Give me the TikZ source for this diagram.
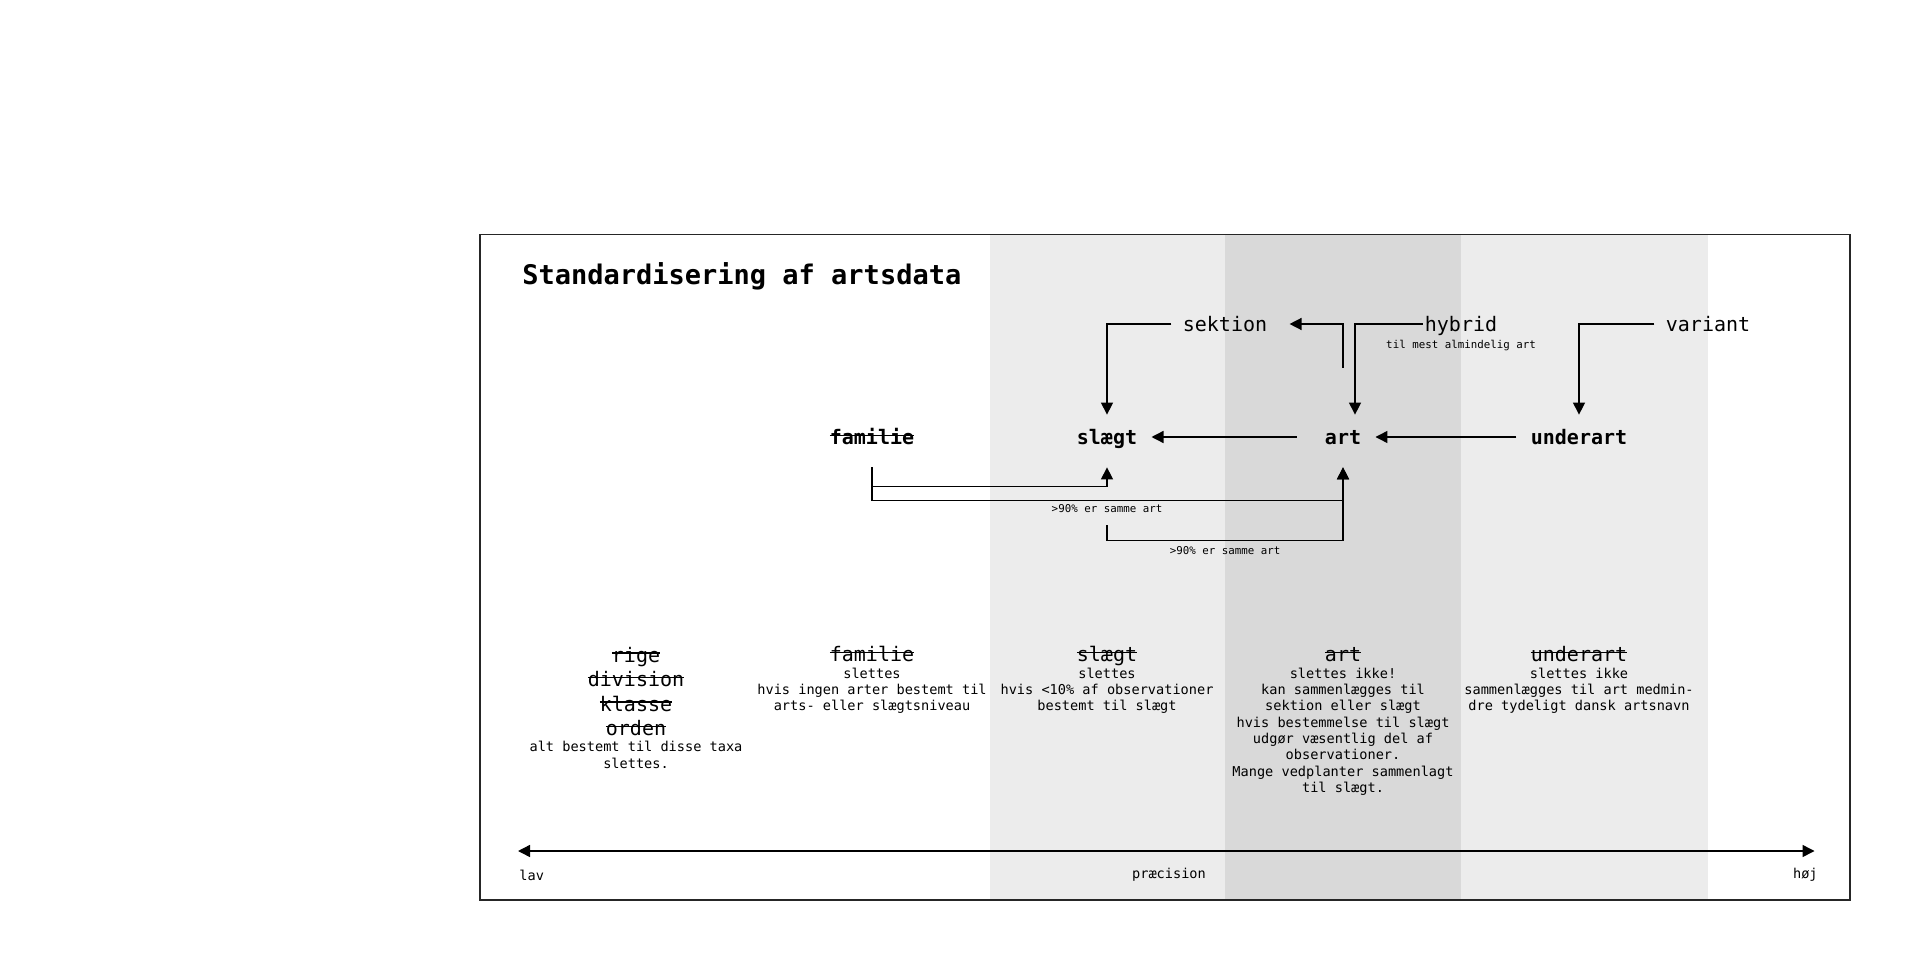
\documentclass[tikz,border=0pt]{standalone}
\usepackage{fontspec}
\setmainfont{DejaVu Sans Mono}
\usetikzlibrary{arrows.meta}
\newcommand\struck[1]{\setbox0\hbox{#1}\rlap{\rule[0.41em]{\wd0}{0.075em}}\box0}

\begin{document}
\begin{tikzpicture}[x=.5pt,y=-.5pt,
  >={Triangle[length=6pt,width=6pt]},
  conn/.style={line width=.7pt},
  upnode/.style={font=\bfseries\fontsize{10}{12}\selectfont,text height=8.8pt,text depth=1.2pt,inner xsep=7pt,inner ysep=6pt},
  sidenode/.style={font=\fontsize{10}{12}\selectfont,text height=8.8pt,text depth=1.2pt,inner xsep=5.5pt,inner ysep=6pt},
  note/.style={font=\fontsize{5.4}{6.5}\selectfont,inner sep=1pt},
  lowhdr/.style={font=\fontsize{10}{12.25}\selectfont,align=center,inner sep=0pt},
  lowtxt/.style={font=\fontsize{6.8}{8.15}\selectfont,align=center,inner sep=0pt,anchor=north},
  axtxt/.style={font=\fontsize{6.8}{8}\selectfont,inner sep=0pt}]
\path[use as bounding box] (0,0) rectangle (1925,962);
\fill[black!7.5] (989.5,234.5) rectangle (1225,900);
\fill[black!15] (1225,234.5) rectangle (1461,900);
\fill[black!7.5] (1461,234.5) rectangle (1708,900);
\draw[black!85,line width=.9pt] (480,234.5) rectangle (1850,900);

\node[anchor=base west,inner sep=0pt,font=\bfseries\fontsize{13.5}{16}\selectfont] (title) at (522,285) {Standardisering af artsdata};

\node[upnode] (fam) at (872,437) {\struck{familie}};
\node[upnode] (slaegt) at (1107,437) {slægt};
\node[upnode] (art) at (1343,437) {art};
\node[upnode] (underart) at (1579,437) {underart};
\node[sidenode] (sektion) at (1225,324) {sektion};
\node[sidenode,inner xsep=1pt] (hybrid) at (1461,324) {hybrid};
\node[sidenode] (variant) at (1708,324) {variant};
\node[note] (hybnote) at (1461,346) {til mest almindelig art};

\draw[conn,->] (sektion.west) -| (slaegt.north);
\draw[conn,->] ([yshift=23.5pt]art.north) |- ([xshift=5.5pt]sektion.east);
\draw[conn,->] (hybrid.west) -| ([xshift=6pt]art.north);
\draw[conn,->] (variant.west) -| (underart.north);
\draw[conn,->] ([xshift=-7pt]art.west) -- (slaegt.east);
\draw[conn,->] (underart.west) -- (art.east);
\draw[conn,->] ([yshift=-4pt]fam.south) -- ++(0,19) -| ([yshift=-4pt]slaegt.south);
\draw[conn,->] ([yshift=-4pt]fam.south) -- ++(0,33) -| ([yshift=-4pt]art.south);
\node[note] (pct1) at (1107,509) {>90\% er samme art};
\draw[conn,->] ([yshift=-5pt]pct1.south) -- ++(0,15) -| ([yshift=-4pt]art.south);
\node[note] (pct2) at (1225,551) {>90\% er samme art};

\node[lowhdr,anchor=north] (rige) at (636,646.5) {\struck{rige}\\\struck{division}\\\struck{klasse}\\\struck{orden}};
\node[lowtxt] (rigetxt) at (636,741) {alt bestemt til disse taxa\\slettes.};
\node[lowhdr,anchor=base] (famhdr) at (872,661.5) {\struck{familie}};
\node[lowtxt] (famtxt) at (872,667.4) {slettes\\hvis ingen arter bestemt til\\arts- eller slægtsniveau};
\node[lowhdr,anchor=base] (slhdr) at (1107,661.5) {\struck{slægt}};
\node[lowtxt] (sltxt) at (1107,667.4) {slettes\\hvis <10\% af observationer\\bestemt til slægt};
\node[lowhdr,anchor=base] (arthdr) at (1343,661.5) {\struck{art}};
\node[lowtxt] (arttxt) at (1343,667.4) {slettes ikke!\\kan sammenlægges til\\sektion eller slægt\\hvis bestemmelse til slægt\\udgør væsentlig del af\\observationer.\\Mange vedplanter sammenlagt\\til slægt.};
\node[lowhdr,anchor=base] (uahdr) at (1579,661.5) {\struck{underart}};
\node[lowtxt] (uatxt) at (1579,667.4) {slettes ikke\\sammenlægges til art medmin-\\dre tydeligt dansk artsnavn};

\coordinate (axl) at (518,851);
\coordinate (axr) at (1814.5,851);
\draw[conn,<->] (axl) -- (axr);
\node[axtxt,anchor=west] (lav) at (519,875) {lav};
\node[axtxt] (prec) at (1169,875) {præcision};
\node[axtxt,anchor=east] (hoej) at (1818,875) {høj};
\end{tikzpicture}
\end{document}
